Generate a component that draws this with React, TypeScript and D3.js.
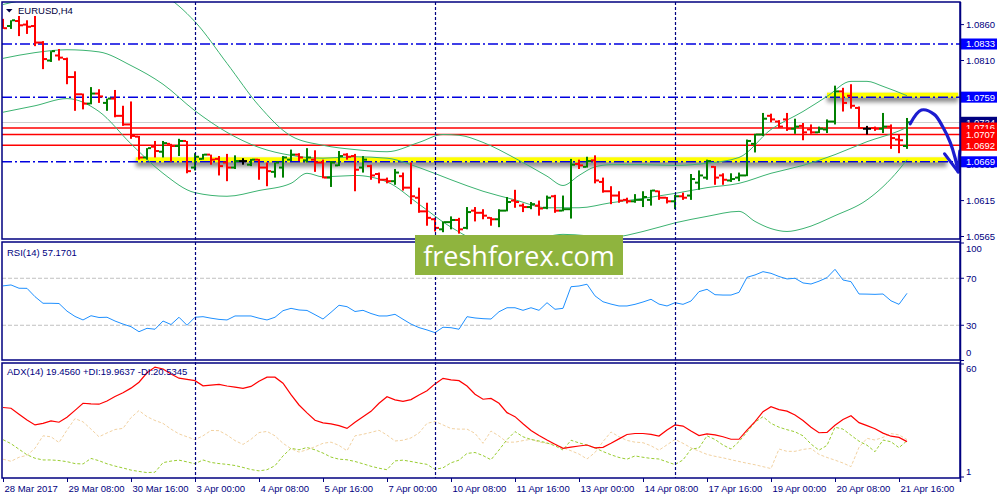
import { useEffect, useRef } from "react";
import * as d3 from "d3";

// ---- data ----
const symbolTitle = "EURUSD,H4";
const xLabels = [
  "28 Mar 2017", "29 Mar 08:00", "30 Mar 16:00", "3 Apr 00:00", "4 Apr 08:00",
  "5 Apr 16:00", "7 Apr 00:00", "10 Apr 08:00", "11 Apr 16:00", "13 Apr 00:00",
  "14 Apr 08:00", "17 Apr 16:00", "19 Apr 00:00", "20 Apr 08:00", "21 Apr 16:00",
];
const labelEvery = 8;
const weekStarts = [24, 54, 84];
const priceTicks = [1.086, 1.081, 1.076, 1.0715, 1.0665, 1.0615, 1.0565];

const opens = [
  1.0867, 1.0858, 1.0865, 1.0860, 1.0858, 1.0835, 1.0810, 1.0817, 1.0812, 1.0787,
  1.0763, 1.0750, 1.0764, 1.0751, 1.0757, 1.0733, 1.0721, 1.0704, 1.0675, 1.0690,
  1.0683, 1.0694, 1.0691, 1.0698, 1.0661, 1.0673, 1.0679, 1.0673, 1.0668, 1.0661,
  1.0670, 1.0665, 1.0672, 1.0661, 1.0655, 1.0661, 1.0672, 1.0679, 1.0671, 1.0672,
  1.0668, 1.0647, 1.0664, 1.0679, 1.0677, 1.0661, 1.0663, 1.0652, 1.0644, 1.0642,
  1.0649, 1.0633, 1.0619, 1.0600, 1.0589, 1.0575, 1.0585, 1.0588, 1.0577, 1.0601,
  1.0598, 1.0591, 1.0589, 1.0601, 1.0615, 1.0608, 1.0606, 1.0608, 1.0605, 1.0621,
  1.0601, 1.0603, 1.0666, 1.0662, 1.0671, 1.0641, 1.0628, 1.0622, 1.0616, 1.0614,
  1.0616, 1.0616, 1.0628, 1.0619, 1.0614, 1.0621, 1.0622, 1.0640, 1.0647, 1.0662,
  1.0650, 1.0643, 1.0647, 1.0650, 1.0694, 1.0707, 1.0733, 1.0725, 1.0728, 1.0715,
  1.0719, 1.0714, 1.0710, 1.0714, 1.0725, 1.0767, 1.0761, 1.0744, 1.0715, 1.0716,
  1.0715, 1.0718, 1.0700, 1.0691,
];
const highs = [
  1.0868, 1.0866, 1.0872, 1.0866, 1.0872, 1.0837, 1.0823, 1.0826, 1.0814, 1.0795,
  1.0764, 1.0773, 1.0770, 1.0757, 1.0769, 1.0747, 1.0753, 1.0705, 1.0688, 1.0698,
  1.0698, 1.0694, 1.0701, 1.0698, 1.0681, 1.0680, 1.0679, 1.0677, 1.0680, 1.0678,
  1.0674, 1.0673, 1.0673, 1.0668, 1.0668, 1.0677, 1.0686, 1.0681, 1.0688, 1.0685,
  1.0672, 1.0670, 1.0684, 1.0681, 1.0680, 1.0677, 1.0665, 1.0654, 1.0647, 1.0659,
  1.0654, 1.0668, 1.0633, 1.0612, 1.0591, 1.0586, 1.0593, 1.0591, 1.0606, 1.0606,
  1.0603, 1.0592, 1.0603, 1.0620, 1.0630, 1.0611, 1.0613, 1.0615, 1.0622, 1.0623,
  1.0622, 1.0673, 1.0672, 1.0676, 1.0678, 1.0647, 1.0635, 1.0628, 1.0619, 1.0624,
  1.0628, 1.0630, 1.0629, 1.0620, 1.0623, 1.0626, 1.0652, 1.0657, 1.0672, 1.0663,
  1.0653, 1.0653, 1.0654, 1.0700, 1.0708, 1.0737, 1.0736, 1.0727, 1.0737, 1.0729,
  1.0723, 1.0721, 1.0718, 1.0728, 1.0775, 1.0772, 1.0777, 1.0746, 1.0719, 1.0718,
  1.0737, 1.0721, 1.0707, 1.0730,
];
const lows = [
  1.0854, 1.0854, 1.0844, 1.0847, 1.0830, 1.0798, 1.0808, 1.0810, 1.0777, 1.0740,
  1.0742, 1.0749, 1.0751, 1.0740, 1.0731, 1.0719, 1.0701, 1.0672, 1.0672, 1.0675,
  1.0675, 1.0669, 1.0677, 1.0653, 1.0657, 1.0672, 1.0665, 1.0650, 1.0642, 1.0659,
  1.0665, 1.0663, 1.0644, 1.0635, 1.0647, 1.0647, 1.0670, 1.0670, 1.0668, 1.0655,
  1.0646, 1.0634, 1.0663, 1.0672, 1.0628, 1.0654, 1.0644, 1.0639, 1.0639, 1.0637,
  1.0629, 1.0610, 1.0598, 1.0580, 1.0572, 1.0571, 1.0575, 1.0569, 1.0575, 1.0586,
  1.0589, 1.0580, 1.0578, 1.0600, 1.0605, 1.0599, 1.0603, 1.0594, 1.0603, 1.0598,
  1.0600, 1.0590, 1.0659, 1.0661, 1.0639, 1.0626, 1.0610, 1.0612, 1.0611, 1.0612,
  1.0606, 1.0608, 1.0616, 1.0611, 1.0603, 1.0616, 1.0616, 1.0630, 1.0644, 1.0637,
  1.0637, 1.0641, 1.0642, 1.0649, 1.0682, 1.0705, 1.0724, 1.0716, 1.0712, 1.0708,
  1.0699, 1.0708, 1.0709, 1.0709, 1.0721, 1.0739, 1.0743, 1.0715, 1.0707, 1.0712,
  1.0709, 1.0687, 1.0681, 1.0687,
];
const closes = [
  1.0855, 1.0866, 1.0859, 1.0857, 1.0835, 1.0812, 1.0823, 1.0814, 1.0787, 1.0763,
  1.0750, 1.0764, 1.0760, 1.0757, 1.0733, 1.0721, 1.0705, 1.0675, 1.0688, 1.0684,
  1.0695, 1.0691, 1.0698, 1.0656, 1.0676, 1.0679, 1.0672, 1.0663, 1.0661, 1.0670,
  1.0670, 1.0672, 1.0661, 1.0656, 1.0668, 1.0675, 1.0679, 1.0675, 1.0675, 1.0668,
  1.0647, 1.0668, 1.0677, 1.0676, 1.0658, 1.0672, 1.0650, 1.0644, 1.0642, 1.0654,
  1.0633, 1.0621, 1.0600, 1.0591, 1.0577, 1.0585, 1.0588, 1.0575, 1.0599, 1.0598,
  1.0594, 1.0589, 1.0601, 1.0613, 1.0613, 1.0606, 1.0610, 1.0604, 1.0619, 1.0601,
  1.0603, 1.0665, 1.0664, 1.0670, 1.0643, 1.0628, 1.0622, 1.0615, 1.0614, 1.0616,
  1.0620, 1.0629, 1.0619, 1.0614, 1.0621, 1.0619, 1.0645, 1.0650, 1.0670, 1.0647,
  1.0644, 1.0645, 1.0650, 1.0698, 1.0707, 1.0729, 1.0728, 1.0718, 1.0715, 1.0718,
  1.0710, 1.0710, 1.0715, 1.0725, 1.0767, 1.0751, 1.0747, 1.0716, 1.0715, 1.0715,
  1.0718, 1.0702, 1.0699, 1.0724,
];

// Bollinger bands, [bar, price] read at points along each curve
const bbUpper: [number, number][] = [
  [0, 1.0888], [4, 1.0895], [8, 1.0893], [12, 1.0905], [16, 1.0912], [20, 1.0901],
  [24, 1.0864], [28, 1.0806], [32, 1.0747], [36, 1.0705], [40, 1.0692], [44, 1.0686],
  [48, 1.0683], [52, 1.0696], [55, 1.0707], [57, 1.0706], [60, 1.0696], [64, 1.0674],
  [68, 1.0649], [70, 1.0636], [72, 1.065], [74, 1.0662], [76, 1.0665], [80, 1.0665],
  [84, 1.0664], [88, 1.0667], [92, 1.0675], [96, 1.0714], [100, 1.0739], [103, 1.076],
  [106, 1.0781], [108, 1.0781], [110, 1.0774], [113, 1.0761],
];
const bbMiddle: [number, number][] = [
  [0, 1.0813], [4, 1.0821], [8, 1.0825], [12, 1.0822], [16, 1.0803], [20, 1.0777],
  [24, 1.074], [28, 1.071], [32, 1.0689], [36, 1.0678], [40, 1.0674], [44, 1.0676],
  [48, 1.0674], [52, 1.0661], [56, 1.0644], [60, 1.0628], [64, 1.0616], [68, 1.0605],
  [72, 1.0605], [76, 1.0612], [80, 1.0618], [84, 1.0625], [88, 1.0633], [92, 1.0639],
  [96, 1.0653], [100, 1.0664], [104, 1.0679], [108, 1.0697], [112, 1.0712], [113, 1.0717],
];
const bbLower: [number, number][] = [
  [0, 1.0738], [4, 1.0747], [8, 1.0757], [12, 1.0739], [16, 1.0694], [20, 1.0653],
  [24, 1.0626], [28, 1.0621], [32, 1.0629], [36, 1.0639], [38, 1.0653], [40, 1.0648],
  [44, 1.065], [48, 1.0641], [52, 1.061], [56, 1.0578], [60, 1.0558], [64, 1.0557],
  [68, 1.0565], [70, 1.0568], [76, 1.0564], [80, 1.0572], [84, 1.0584], [88, 1.0593],
  [92, 1.06], [94, 1.0586], [96, 1.0576], [98, 1.0572], [100, 1.0576], [104, 1.0594],
  [108, 1.0616], [112, 1.0658], [113, 1.0672],
];

// objects drawn on the chart
const dashDotLevels = [1.0833, 1.0759, 1.0669];
const redLevels = [1.0716, 1.0707, 1.0692];
const zones = [
  { price: 1.0669, from: 16.6, to: 118 },
  { price: 1.0759, from: 103, to: 119.4 },
];
const priceTags = [
  { price: 1.0833, color: "#0000ff" },
  { price: 1.0759, color: "#0000ff" },
  { price: 1.0724, color: "#000080" },
  { price: 1.0716, color: "#ff0000" },
  { price: 1.0707, color: "#ff0000" },
  { price: 1.0692, color: "#ff0000" },
  { price: 1.0669, color: "#0000ff" },
];
const arrowPath: [number, number][] = [
  [113.4, 1.0722], [114.8, 1.0741], [116.4, 1.0735], [117.5, 1.0717],
  [118.4, 1.0696], [119.0, 1.0675], [119.4, 1.0655],
];
const arrowHead: [number, number][] = [[117.7, 1.068], [119.4, 1.0655], [119.6, 1.0684]];

// RSI(14)
const rsiLevels = [70, 30];
const rsiTicks = [100, 70, 30, 0];
const rsi = [
  63.5, 64.3, 61.5, 61.4, 54.3, 48.7, 48.7, 48.5, 42, 37.5,
  34.5, 38.1, 36.6, 36.8, 33.6, 31, 28.8, 24.5, 27.4, 26.6,
  33.6, 30.6, 36.8, 30, 36.8, 37.3, 36, 35, 34.5, 37.9,
  37.9, 37.9, 36, 34.5, 36.8, 42.4, 44.4, 43, 42.6, 39,
  35.3, 41, 47, 45.8, 41.7, 42.7, 40, 37.9, 37.9, 39.3,
  35.1, 31, 28, 26, 23.7, 28.3, 27.9, 26.6, 37.3, 36.2,
  35.6, 35.3, 41.5, 44.9, 44.9, 42.7, 44.9, 42.7, 49.2, 43.6,
  44.4, 62.8, 63.4, 64.9, 55, 50, 48, 46.4, 46.4, 47.8,
  49.8, 52.1, 48, 46.4, 49.2, 47.8, 50.6, 58.6, 60.6, 56,
  55.7, 55.7, 58, 70.8, 72.8, 75.6, 74.2, 71.5, 69.4, 70,
  66, 65.1, 67.5, 70.5, 77.6, 68.5, 67.1, 56.6, 56.5, 56.3,
  56.6, 50.8, 47.8, 57.1701,
];

// ADX(14)
const adxTicks = [60, 1];
const adx = [
  37.3, 36.9, 33.8, 30.8, 28.2, 29.0, 30.3, 29.6, 32.2, 35.8,
  39.5, 39.2, 39.0, 40.7, 43, 45, 47.4, 50.5, 55.4, 58.4,
  57.4, 54.8, 52.6, 52, 51.3, 48.6, 49, 49.4, 48.5, 47.9,
  47.3, 48.3, 51, 53.1, 53.1, 50, 44, 38.6, 34.5, 30.6,
  29.3, 28.7, 27.8, 26.4, 29.6, 32.5, 35.3, 39.5, 42.9, 41.3,
  40.5, 41.4, 43.8, 46, 49.6, 52.5, 51.7, 51.3, 48.5, 44.2,
  41.6, 42, 39.5, 34.6, 32.5, 28.8, 25.3, 22.7, 20.3, 18.1,
  16.0, 16.6, 17.2, 17.7, 16.2, 16.5, 18.6, 20.9, 23.2, 23.7,
  23.7, 23.3, 22.4, 25.5, 28.2, 27.6, 25.0, 22.6, 23.5, 23.0,
  22.0, 20.7, 20.7, 25.5, 29.9, 35.1, 37.7, 36.2, 35.4, 33.4,
  30.5, 27.0, 24.1, 24.3, 28.0, 31.0, 33.0, 29.4, 27.8, 26.2,
  23.9, 22.3, 21.7, 19.456,
];
const plusDi = [
  20.5, 18.4, 15.5, 12.6, 10.8, 9.9, 9.9, 9.6, 9.0, 8.0,
  7.8, 10.7, 9.5, 7.9, 6.7, 5.7, 4.6, 3.9, 3.3, 3.5,
  8.5, 9.3, 9.8, 8.9, 7.9, 9.9, 8.6, 8.0, 7.6, 7.0,
  6.0, 4.9, 4.2, 4.8, 6.9, 12, 16, 15.2, 16.4, 15.2,
  13.5, 11.4, 10.3, 10.0, 9.1, 7.9, 6.6, 5.6, 4.8, 9.4,
  9.8, 9.1, 8.3, 7.6, 5.0, 5.8, 8.4, 9.8, 13.3, 13.8,
  12.2, 10.0, 15.1, 20.5, 24.7, 22.0, 20.6, 19.8, 18.8, 17.3,
  15.1, 20.2, 18.8, 17.7, 16.2, 14.3, 12.6, 11.2, 10.3, 12.0,
  11.3, 10.7, 10.4, 8.9, 7.5, 9.9, 15.5, 16.2, 22.5, 20.6,
  17.7, 15.6, 19.5, 24.5, 29.6, 32.5, 29.0, 27.0, 25.7, 24.6,
  22.5, 18.2, 15, 17.5, 27, 26, 22.8, 19.7, 17.6, 14.2,
  20.3, 19.4, 16.3, 19.9637,
];
const minusDi = [
  10.3, 9.2, 11.3, 12.3, 16, 22.5, 22, 19, 25.5, 31.5,
  29.8, 26, 22, 24, 25.8, 26.4, 32, 35.7, 32.5, 30.5,
  29, 26, 23.5, 22, 20.5, 22.5, 25.3, 25.2, 22.9, 20,
  18, 20.7, 24.2, 24.8, 22.5, 18.6, 15.8, 14, 15.2, 16.8,
  18.6, 19.2, 17.5, 14.7, 22.5, 23.3, 24.3, 25.4, 22.9, 19.8,
  20.2, 21.4, 24, 29, 30, 28.2, 26.3, 26, 26, 23.8,
  18.6, 25, 22.4, 19.2, 19.2, 20, 20.7, 19.3, 18.5, 18.1,
  16.3, 14.7, 13, 10.4, 13.8, 19.5, 24.5, 22, 20.1, 19.2,
  18.9, 17.3, 15, 17.8, 20.6, 18.6, 16.2, 14.5, 12.8, 11.8,
  11, 10, 9.1, 8.2, 7.4, 6.4, 5.4, 15.6, 14.4, 14.4,
  15.4, 15.9, 12.8, 11.2, 9.8, 8.3, 6.4, 16.5, 21.2, 20.3,
  21.7, 23.7, 23, 20.5345,
];

const FONT = "'Liberation Sans', Arial, sans-serif";
const NAVY = "#000080";
const LEFT = 2;
const RIGHT = 960;
const MAIN = { top: 2, bottom: 239 };
const RSI = { top: 242, bottom: 360 };
const ADX = { top: 363, bottom: 478 };

export default function App() {
  const svgRef = useRef<SVGSVGElement>(null);

  useEffect(() => {
    const svg = d3.select(svgRef.current);
    svg.selectAll("*").remove();

    const last = closes.length - 1;
    const x = d3.scaleLinear().domain([0, last]).range([3, 907]);
    const y = d3.scaleLinear().domain([1.0565, 1.086]).range([236.5, 24.6]);
    const yRsi = d3.scaleLinear().domain([0, 100]).range([360.5, 243]);
    const yAdx = d3.scaleLinear().domain([1, 60]).range([477, 364]);

    const defs = svg.append("defs");
    [["clipMain", MAIN], ["clipRsi", RSI], ["clipAdx", ADX]].forEach(([id, p]: any) => {
      defs.append("clipPath").attr("id", id).append("rect")
        .attr("x", LEFT).attr("y", p.top).attr("width", RIGHT - LEFT).attr("height", p.bottom - p.top);
    });
    defs.append("filter").attr("id", "soft")
      .attr("filterUnits", "userSpaceOnUse")
      .attr("x", 0).attr("y", 0).attr("width", 1000).attr("height", 500)
      .append("feGaussianBlur").attr("stdDeviation", 2.2);

    svg.append("rect").attr("width", 1000).attr("height", 500).attr("fill", "#fff");

    // ---------- main window ----------
    const main = svg.append("g").attr("clip-path", "url(#clipMain)");

    zones.forEach((z) => {
      const yc = y(z.price);
      main.append("rect")
        .attr("x", x(z.from)).attr("y", yc - 2).attr("width", x(z.to) - x(z.from)).attr("height", 7)
        .attr("fill", "#000").attr("opacity", 0.45).attr("filter", "url(#soft)");
      main.append("rect")
        .attr("x", x(z.from)).attr("y", yc - 4.5).attr("width", x(z.to) - x(z.from)).attr("height", 5)
        .attr("fill", "#ffff00");
    });

    main.append("line")
      .attr("x1", LEFT).attr("x2", RIGHT)
      .attr("y1", Math.round(y(closes[last])) + 0.5).attr("y2", Math.round(y(closes[last])) + 0.5)
      .attr("stroke", "#cfcfcf").attr("stroke-width", 1);

    redLevels.forEach((p) => {
      main.append("line")
        .attr("x1", LEFT).attr("x2", RIGHT).attr("y1", y(p)).attr("y2", y(p))
        .attr("stroke", "#ff0000").attr("stroke-width", 1.5);
    });

    dashDotLevels.forEach((p) => {
      main.append("line")
        .attr("x1", LEFT).attr("x2", RIGHT).attr("y1", y(p)).attr("y2", y(p))
        .attr("stroke", "#0000e0").attr("stroke-width", 1.5)
        .attr("stroke-dasharray", "10,3,2,3");
    });

    const bandLine = d3.line<[number, number]>()
      .x((d) => x(d[0])).y((d) => y(d[1]))
      .curve(d3.curveMonotoneX);
    [bbUpper, bbMiddle, bbLower].forEach((band) => {
      main.append("path").attr("d", bandLine(band))
        .attr("fill", "none").attr("stroke", "#3cb371").attr("stroke-width", 1);
    });

    // OHLC bars
    const barColor = (i: number) =>
      closes[i] > opens[i] ? "#008000" : closes[i] < opens[i] ? "#ff0000" : "#000000";
    const bars = main.append("g").selectAll("g").data(d3.range(closes.length)).join("g")
      .attr("fill", (i) => barColor(i));
    bars.append("rect")
      .attr("x", (i) => x(i) - 1).attr("y", (i) => y(highs[i]))
      .attr("width", 2).attr("height", (i) => Math.max(1, y(lows[i]) - y(highs[i])));
    bars.append("rect")
      .attr("x", (i) => x(i) - 4).attr("y", (i) => y(opens[i]) - 1)
      .attr("width", 3).attr("height", 2);
    bars.append("rect")
      .attr("x", (i) => x(i) + 1).attr("y", (i) => y(closes[i]) - 1)
      .attr("width", 3).attr("height", 2);

    // hand drawn arrow
    const arrowLine = d3.line<[number, number]>()
      .x((d) => x(d[0])).y((d) => y(d[1])).curve(d3.curveCatmullRom);
    svg.append("path").attr("d", arrowLine(arrowPath))
      .attr("fill", "none").attr("stroke", "#1c1cd0").attr("stroke-width", 3.2)
      .attr("stroke-linecap", "round");
    svg.append("path").attr("d", d3.line<[number, number]>().x((d) => x(d[0])).y((d) => y(d[1]))(arrowHead))
      .attr("fill", "none").attr("stroke", "#1c1cd0").attr("stroke-width", 3.2)
      .attr("stroke-linecap", "round").attr("stroke-linejoin", "round");

    // ---------- RSI window ----------
    const rsiG = svg.append("g").attr("clip-path", "url(#clipRsi)");
    rsiLevels.forEach((v) => {
      rsiG.append("line")
        .attr("x1", LEFT).attr("x2", RIGHT).attr("y1", yRsi(v)).attr("y2", yRsi(v))
        .attr("stroke", "#c0c0c0").attr("stroke-width", 1).attr("stroke-dasharray", "4,2");
    });
    rsiG.append("path")
      .attr("d", d3.line<number>().x((_, i) => x(i)).y((d) => yRsi(d))(rsi))
      .attr("fill", "none").attr("stroke", "#1e90ff").attr("stroke-width", 1);

    // ---------- ADX window ----------
    const adxG = svg.append("g").attr("clip-path", "url(#clipAdx)");
    const adxLine = d3.line<number>().x((_, i) => x(i)).y((d) => yAdx(d));
    adxG.append("path").attr("d", adxLine(minusDi))
      .attr("fill", "none").attr("stroke", "#f2d2a2").attr("stroke-width", 1).attr("stroke-dasharray", "3,2");
    adxG.append("path").attr("d", adxLine(plusDi))
      .attr("fill", "none").attr("stroke", "#9acd32").attr("stroke-width", 1).attr("stroke-dasharray", "3,2");
    adxG.append("path").attr("d", adxLine(adx))
      .attr("fill", "none").attr("stroke", "#ff0000").attr("stroke-width", 1.2);

    // week separators across all windows
    weekStarts.forEach((i) => {
      svg.append("line")
        .attr("x1", Math.round(x(i)) + 0.5).attr("x2", Math.round(x(i)) + 0.5)
        .attr("y1", MAIN.top).attr("y2", ADX.bottom)
        .attr("stroke", NAVY).attr("stroke-width", 1.2).attr("stroke-dasharray", "3,2");
    });

    // frames
    [MAIN, RSI, ADX].forEach((p) => {
      svg.append("rect")
        .attr("x", LEFT).attr("y", p.top).attr("width", RIGHT - LEFT).attr("height", p.bottom - p.top)
        .attr("fill", "none").attr("stroke", NAVY).attr("stroke-width", 1.5);
    });

    // price axis
    const axisText = (sel: any) =>
      sel.attr("font-family", FONT).attr("font-size", 9.5).attr("fill", NAVY);
    priceTicks.forEach((p) => {
      svg.append("line").attr("x1", RIGHT).attr("x2", RIGHT + 4).attr("y1", y(p)).attr("y2", y(p))
        .attr("stroke", NAVY);
      svg.append("text").call(axisText)
        .attr("x", 966).attr("y", y(p)).attr("dy", "0.36em").text(p.toFixed(4));
    });
    priceTags.forEach((t) => {
      const yc = y(t.price);
      svg.append("rect").attr("x", 961).attr("y", yc - 5.5).attr("width", 36).attr("height", 11)
        .attr("fill", t.color);
      svg.append("text").attr("font-family", FONT).attr("font-size", 9.5).attr("fill", "#fff")
        .attr("x", 966).attr("y", yc).attr("dy", "0.36em").text(t.price.toFixed(4));
    });

    rsiTicks.forEach((v) => {
      const yy = Math.min(RSI.bottom - 7, Math.max(RSI.top + 7, yRsi(v)));
      svg.append("line").attr("x1", RIGHT).attr("x2", RIGHT + 4).attr("y1", yRsi(v)).attr("y2", yRsi(v))
        .attr("stroke", NAVY);
      svg.append("text").call(axisText).attr("x", 966).attr("y", yy).attr("dy", "0.36em").text(v);
    });
    adxTicks.forEach((v) => {
      const yy = Math.min(ADX.bottom - 6, Math.max(ADX.top + 6, yAdx(v)));
      svg.append("line").attr("x1", RIGHT).attr("x2", RIGHT + 4).attr("y1", yAdx(v)).attr("y2", yAdx(v))
        .attr("stroke", NAVY);
      svg.append("text").call(axisText).attr("x", 966).attr("y", yy).attr("dy", "0.36em").text(v);
    });

    svg.append("line").attr("x1", RIGHT + 0.5).attr("x2", RIGHT + 0.5)
      .attr("y1", MAIN.top).attr("y2", ADX.bottom + 4).attr("stroke", NAVY).attr("stroke-width", 1.5);

    // time axis
    xLabels.forEach((label, k) => {
      const xi = Math.round(x(k * labelEvery)) + 0.5;
      svg.append("line").attr("x1", xi).attr("x2", xi).attr("y1", ADX.bottom).attr("y2", ADX.bottom + 4)
        .attr("stroke", NAVY);
      svg.append("text").call(axisText).attr("x", xi + 1).attr("y", 491.5).text(label);
    });

    // window titles
    svg.append("path").attr("d", "M6,9L12.5,9L9.25,12.5Z").attr("fill", "#000040");
    svg.append("text").call(axisText).attr("fill", "#000040")
      .attr("x", 18).attr("y", 14).text(symbolTitle);
    svg.append("text").call(axisText)
      .attr("x", 7).attr("y", 255.5).text(`RSI(14) ${rsi[last].toFixed(4)}`);
    svg.append("text").call(axisText)
      .attr("x", 7).attr("y", 375)
      .text(`ADX(14) ${adx[last].toFixed(4)} +DI:${plusDi[last].toFixed(4)} -DI:${minusDi[last].toFixed(4)}`);

    // watermark
    svg.append("rect").attr("x", 415).attr("y", 235).attr("width", 208).attr("height", 40)
      .attr("fill", "#8fb43e");
    svg.append("text").attr("x", 519).attr("y", 266).attr("text-anchor", "middle")
      .attr("font-family", "'Open Sans', sans-serif").attr("font-size", 27).attr("fill", "#fff")
      .text("freshforex.com");
  }, []);

  return (
    <svg
      ref={svgRef}
      width={1000}
      height={500}
      style={{ position: "absolute", left: 0, top: 0, display: "block" }}
    />
  );
}
